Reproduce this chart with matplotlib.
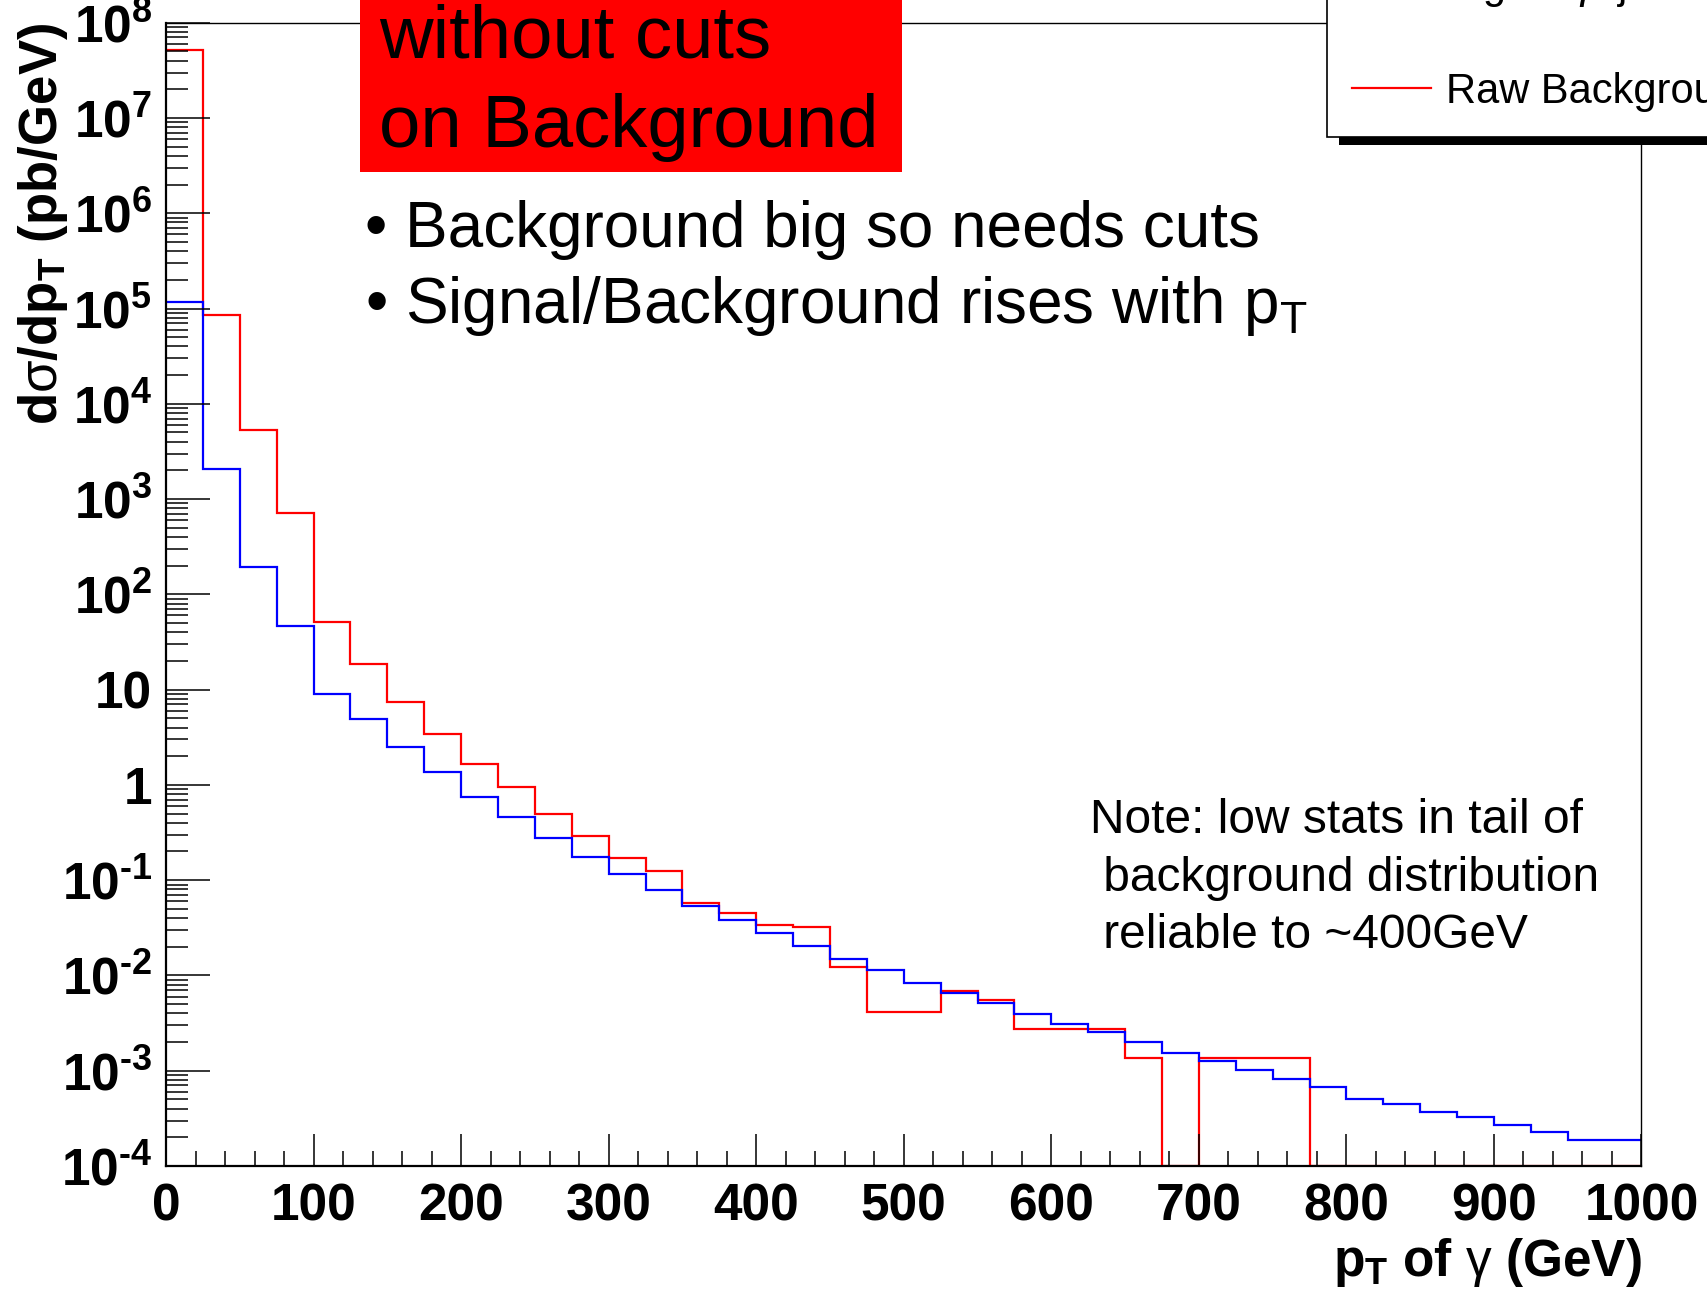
import matplotlib
matplotlib.use('Agg')
import matplotlib.pyplot as plt
import numpy as np
from matplotlib.patches import Rectangle
from matplotlib.ticker import LogLocator, MultipleLocator, NullFormatter

plt.rcParams['font.family'] = ['Liberation Sans', 'DejaVu Sans']
plt.rcParams['mathtext.fontset'] = 'custom'
plt.rcParams['mathtext.rm'] = 'Liberation Sans'
plt.rcParams['mathtext.bf'] = 'Liberation Sans:bold'
plt.rcParams['mathtext.it'] = 'Liberation Sans:italic'

# 40 bins of 25 GeV from 0 to 1000
bin_edges = np.arange(0, 1025, 25)

signal = [1.18e5, 2.07e3, 194, 46, 8.9, 4.9, 2.47, 1.35, 0.745, 0.455,
          0.274, 0.175, 0.117, 0.0787, 0.0538, 0.0378, 0.028, 0.0203, 0.015, 0.0113,
          0.0083, 0.0066, 0.0052, 0.0039, 0.0031, 0.00257, 0.0020, 0.00152, 0.00128, 0.00102,
          0.00081, 0.00067, 0.00051, 0.00045, 0.00037, 0.00033, 0.00027, 0.00023, 0.000187, 0.000187]

background = [5.2e7, 8.6e4, 5.3e3, 716, 51.5, 18.5, 7.45, 3.4, 1.64, 0.94,
              0.5, 0.29, 0.17, 0.125, 0.058, 0.045, 0.0335, 0.0325, 0.0123, 0.0041,
              0.0041, 0.0068, 0.0055, 0.00275, 0.00275, 0.00275, 0.00135, 0, 0.00135, 0.00135,
              0.00135, 0, 0, 0, 0, 0, 0, 0, 0, 0]

legend_labels = ['Signal \u03b3+jet', 'Raw Background']

ytick_vals = [1e-4, 1e-3, 1e-2, 1e-1, 1, 10, 1e2, 1e3, 1e4, 1e5, 1e6, 1e7, 1e8]
ytick_labels = ['10$^{\\mathbf{\u20104}}$', '10$^{\\mathbf{\u20103}}$', '10$^{\\mathbf{\u20102}}$',
                '10$^{\\mathbf{\u20101}}$', '1', '10', '10$^{\\mathbf{2}}$', '10$^{\\mathbf{3}}$',
                '10$^{\\mathbf{4}}$', '10$^{\\mathbf{5}}$', '10$^{\\mathbf{6}}$', '10$^{\\mathbf{7}}$',
                '10$^{\\mathbf{8}}$']
xtick_vals = [0, 100, 200, 300, 400, 500, 600, 700, 800, 900, 1000]

W, H = 1708, 1292
fig = plt.figure(figsize=(W / 100, H / 100), dpi=100)
ax = fig.add_axes([166 / W, 1 - 1166 / H, (1641.5 - 166) / W, (1166 - 22.7) / H])

ymin = 1e-4
bkg = np.array(background, dtype=float)
h_bkg = ax.stairs(np.where(bkg > 0, bkg, ymin), bin_edges, baseline=None, color='red', lw=1.6)
h_sig = ax.stairs(signal, bin_edges, baseline=None, color='blue', lw=1.6)

ax.set_yscale('log')
ax.set_xlim(0, 1000)
ax.set_ylim(1e-4, 1e8)

ax.set_yticks(ytick_vals, labels=ytick_labels, fontweight='bold')
ax.set_xticks(xtick_vals, labels=[str(v) for v in xtick_vals], fontweight='bold')
ax.xaxis.set_minor_locator(MultipleLocator(20))
ax.yaxis.set_minor_locator(LogLocator(base=10, subs=np.arange(2, 10), numticks=100))
ax.yaxis.set_minor_formatter(NullFormatter())

ax.tick_params(axis='both', which='both', direction='in', top=False, right=False)
ax.tick_params(axis='y', which='major', length=32, width=1.1, pad=10, labelsize=37)
ax.tick_params(axis='y', which='minor', length=16, width=1.1)
ax.tick_params(axis='x', which='major', length=23, width=1.1, pad=12, labelsize=37)
ax.tick_params(axis='x', which='minor', length=11, width=1.1)

ax.spines['left'].set_linewidth(1.6)
ax.spines['bottom'].set_linewidth(1.6)
ax.spines['top'].set_linewidth(1.0)
ax.spines['right'].set_linewidth(1.0)

ax.set_xlabel('p$_{\\mathbf{T}}$ of $\\mathrm{\\gamma}$ (GeV)', loc='right',
              fontsize=37, fontweight='bold', labelpad=3)
ax.set_ylabel('d$\\mathrm{\\sigma}$/dp$_{\\mathbf{T}}$ (pb/GeV)', loc='top',
              fontsize=38, fontweight='bold', labelpad=-7)

# red title box, cut by the top of the figure
fig.add_artist(Rectangle((359.5 / W, 1 - 172 / H), (902 - 359.5) / W, 0.2,
                         transform=fig.transFigure, facecolor='red', edgecolor='none', zorder=3))
fig.text(379 / W, 1 - 57 / H, 'without cuts', fontsize=53.5, va='baseline', zorder=6)
fig.text(379 / W, 1 - 147 / H, 'on Background', fontsize=53.5, va='baseline', zorder=6)

fig.text(365 / W, 1 - 247 / H, '\u2022 Background big so needs cuts', fontsize=46, va='baseline', zorder=6)
fig.text(365 / W, 1 - 323.5 / H, '\u2022 Signal/Background rises with p$_{\\mathrm{T}}$',
         fontsize=46, va='baseline', zorder=6)

fig.text(1090 / W, 1 - 833 / H, 'Note: low stats in tail of', fontsize=34.5, va='baseline', zorder=6)
fig.text(1090 / W, 1 - 891 / H, ' background distribution', fontsize=34.5, va='baseline', zorder=6)
fig.text(1090 / W, 1 - 948 / H, ' reliable to ~400GeV', fontsize=34.5, va='baseline', zorder=6)

# legend with a hard black shadow, running off the top right corner
fig.add_artist(Rectangle((1339 / W, 1 - 145 / H), 0.5, 0.5,
                         transform=fig.transFigure, facecolor='black', edgecolor='none', zorder=4))
leg = fig.legend(handles=[h_sig, h_bkg], labels=legend_labels, loc='lower left',
                 bbox_to_anchor=(1327 / W, 1 - 137 / H), bbox_transform=fig.transFigure,
                 borderaxespad=0, fontsize=30, frameon=True, fancybox=False,
                 edgecolor='black', framealpha=1, handlelength=1.9, handletextpad=0.35,
                 borderpad=0.6, labelspacing=1.55)
leg.get_frame().set_linewidth(1.2)
leg.set_zorder(5)

fig.savefig('out.png', dpi=100)
